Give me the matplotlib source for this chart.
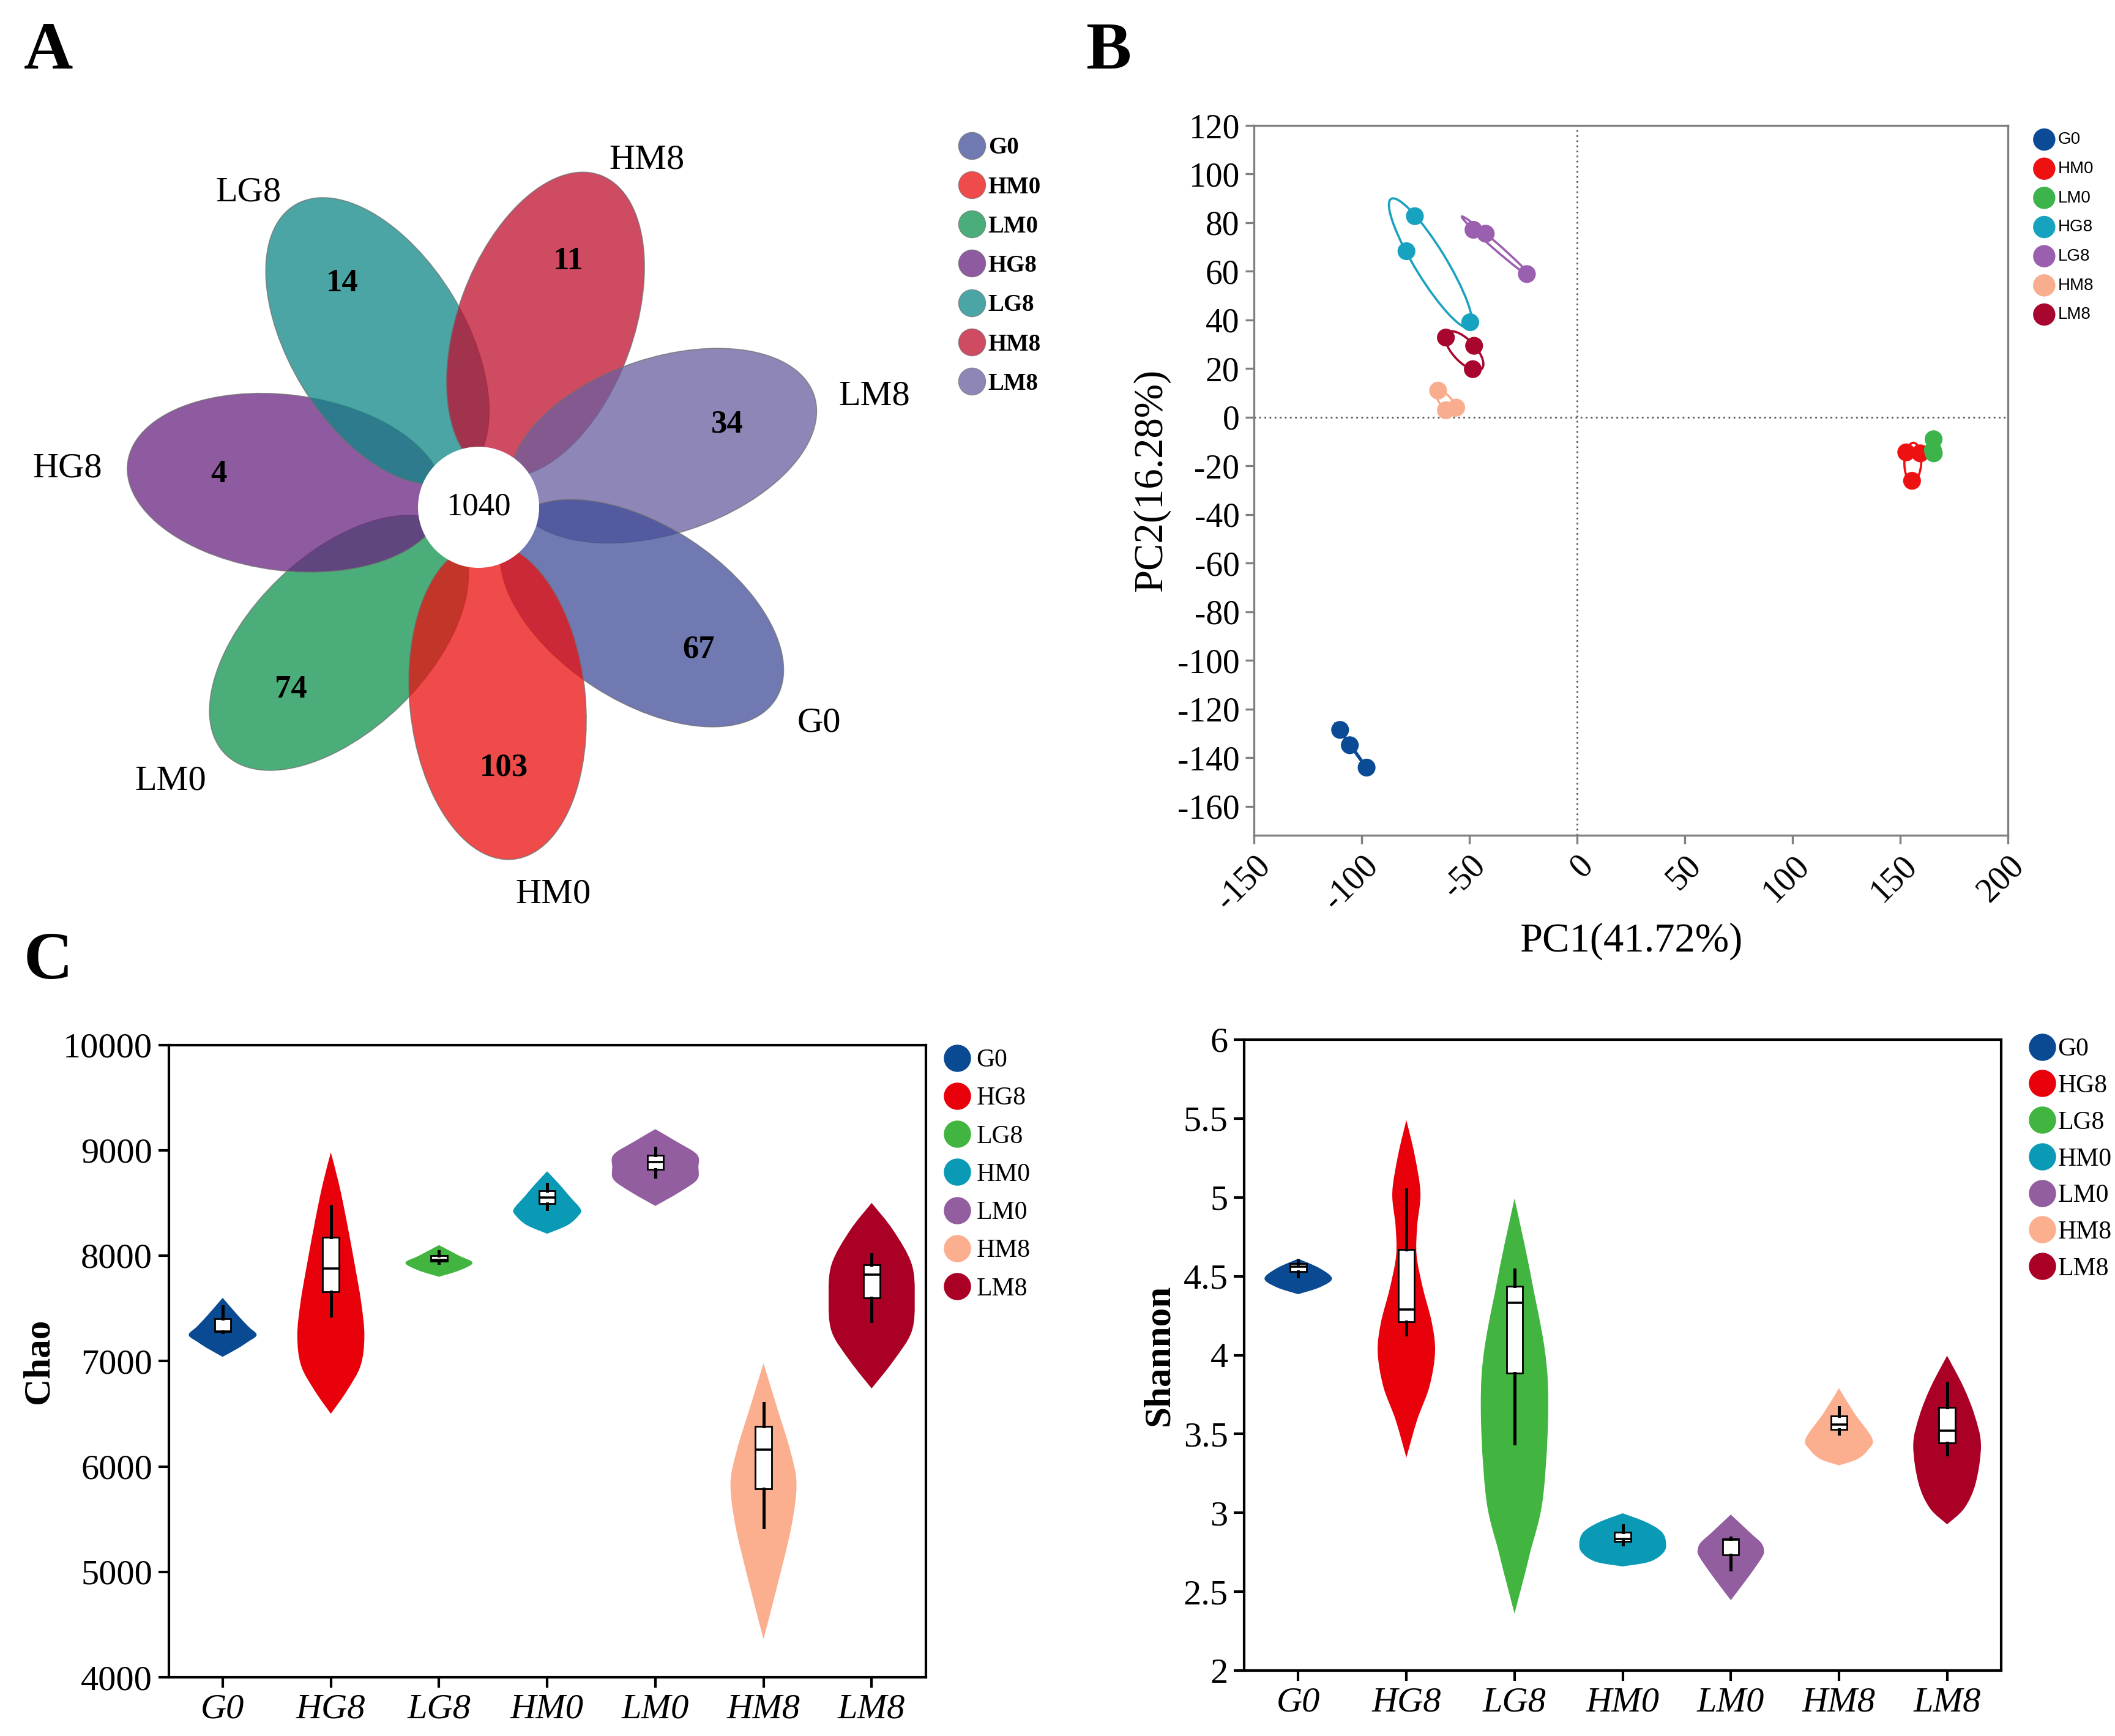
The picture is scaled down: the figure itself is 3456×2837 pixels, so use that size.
import numpy as np
import matplotlib
matplotlib.use("Agg")
import matplotlib.pyplot as plt
from matplotlib.patches import Ellipse, Circle, PathPatch
from matplotlib.path import Path
from matplotlib.lines import Line2D

plt.rcParams["font.family"] = "Liberation Serif"
plt.rcParams["axes.unicode_minus"] = False

# ---------------- data ----------------
# A: flower plot, petals counter-clockwise starting from the bottom petal
flower_groups = ["HM0", "G0", "LM8", "HM8", "LG8", "HG8", "LM0"]
flower_unique = [103, 67, 34, 11, 14, 4, 74]
flower_core = 1040
flower_colors = ["#ea0e0e", "#404c97", "#6a5ea0", "#bf0e2e", "#0e8787", "#682380", "#0e934e"]
flower_legend = ["G0", "HM0", "LM0", "HG8", "LG8", "HM8", "LM8"]

# B: PCA scores (3 samples per group)
pca_groups = ["G0", "HM0", "LM0", "HG8", "LG8", "HM8", "LM8"]
pca_colors = ["#0b4a95", "#ee1111", "#3cb44b", "#17a2bf", "#9b5fb0", "#f9ad8f", "#a8062e"]
pca_pc1 = [[-110.0, -105.5, -97.7],
           [152.8, 159.3, 155.5],
           [165.5, 165.6, 165.2],
           [-75.3, -79.2, -49.6],
           [-48.1, -42.4, -23.3],
           [-64.5, -60.9, -56.1],
           [-60.9, -47.8, -48.4]]
pca_pc2 = [[-128.5, -134.8, -144.0],
           [-14.4, -14.8, -26.1],
           [-9.0, -14.8, -13.5],
           [82.7, 68.3, 39.1],
           [77.1, 75.5, 58.9],
           [11.0, 2.9, 4.0],
           [32.8, 29.4, 19.8]]

# C: alpha diversity
alpha_groups = ["G0", "HG8", "LG8", "HM0", "LM0", "HM8", "LM8"]
alpha_colors = ["#0a4a92", "#e8000b", "#42b540", "#0a9ab5", "#925e9f", "#fcaf8f", "#ab0026"]

chao_samples = [[7275, 7280, 7520],
                [7430, 7880, 8470],
                [7930, 7960, 8040],
                [8440, 8550, 8680],
                [8750, 8890, 9020],
                [5420, 6160, 6600],
                [7380, 7820, 8010]]
# violin outline knots: value and half width (category units)
chao_violin_y = [[7040, 7120, 7180, 7248, 7330, 7440, 7600],
                 [6500, 6720, 6960, 7240, 7560, 7920, 8360, 8680, 8980],
                 [7800, 7860, 7932, 8000, 8100],
                 [8208, 8290, 8380, 8440, 8560, 8680, 8800],
                 [8472, 8600, 8720, 8840, 8960, 9080, 9200],
                 [4360, 4960, 5440, 5840, 6160, 6560, 6980],
                 [6740, 7000, 7280, 7600, 7920, 8240, 8500]]
chao_violin_w = [[0, 0.14, 0.23, 0.314, 0.235, 0.135, 0],
                 [0, 0.15, 0.276, 0.31, 0.28, 0.22, 0.14, 0.075, 0],
                 [0, 0.19, 0.31, 0.185, 0],
                 [0, 0.19, 0.29, 0.31, 0.21, 0.11, 0],
                 [0, 0.22, 0.385, 0.398, 0.385, 0.2, 0],
                 [0, 0.15, 0.26, 0.305, 0.245, 0.125, 0],
                 [0, 0.2, 0.37, 0.398, 0.37, 0.2, 0]]

shannon_samples = [[4.50, 4.56, 4.60],
                   [4.13, 4.29, 5.05],
                   [3.44, 4.33, 4.54],
                   [2.80, 2.835, 2.92],
                   [2.64, 2.83, 2.84],
                   [3.50, 3.56, 3.67],
                   [3.37, 3.52, 3.82]]
shannon_violin_y = [[4.386, 4.43, 4.485, 4.55, 4.611],
                    [3.35, 3.59, 3.80, 4.017, 4.204, 4.418, 4.63, 4.82, 5.03, 5.27, 5.49],
                    [2.361, 2.735, 3.136, 3.857, 4.472, 4.993],
                    [2.66, 2.69, 2.75, 2.815, 2.88, 2.94, 2.997],
                    [2.446, 2.60, 2.72, 2.762, 2.81, 2.87, 2.989],
                    [3.301, 3.34, 3.40, 3.47, 3.63, 3.79],
                    [2.927, 3.03, 3.19, 3.43, 3.617, 3.80, 3.996]]
shannon_violin_w = [[0, 0.2, 0.312, 0.2, 0],
                    [0, 0.1, 0.213, 0.265, 0.236, 0.155, 0.095, 0.10, 0.13, 0.076, 0],
                    [0, 0.14, 0.27, 0.306, 0.16, 0],
                    [0, 0.25, 0.38, 0.40, 0.36, 0.22, 0],
                    [0, 0.17, 0.29, 0.307, 0.28, 0.185, 0],
                    [0, 0.17, 0.27, 0.308, 0.145, 0],
                    [0, 0.16, 0.265, 0.313, 0.255, 0.15, 0]]

W, H = 3456, 2837
fig = plt.figure(figsize=(W / 200, H / 200), dpi=200)


def frac_box(x0, y0, x1, y1):
    # pixel box (top-left origin) -> figure fraction rect
    return [x0 / W, 1 - y1 / H, (x1 - x0) / W, (y1 - y0) / H]


# ---------------- A: flower ----------------
ax_a = fig.add_axes(frac_box(0, 0, 1750, 1500))
ax_a.set_xlim(0, 1750)
ax_a.set_ylim(1500, 0)
ax_a.axis("off")

cx, cy = 782, 829
start, step = 275.6, 360 / 7
dist, semi_a, semi_b = 318, 260, 143.5
for k in reversed(range(len(flower_groups))):
    phi = start + k * step
    ux, uy = np.cos(np.radians(phi)), -np.sin(np.radians(phi))
    ax_a.add_patch(Ellipse((cx + dist * ux, cy + dist * uy), 2 * semi_a, 2 * semi_b,
                           angle=-phi, facecolor=flower_colors[k], alpha=0.75,
                           edgecolor="#707070", lw=0.6, zorder=10 - k))
    ax_a.text(cx + 428 * ux, cy + 428 * uy, str(flower_unique[k]), ha="center",
              va="center", fontsize=19, fontweight="bold", zorder=30)
    ax_a.text(cx + 620 * ux, cy + 620 * uy + 15, flower_groups[k],
              ha="left" if ux > 0 else "right", va="center", fontsize=21, zorder=30)
ax_a.add_patch(Circle((cx, cy), 99, facecolor="white", edgecolor="none", zorder=25))
ax_a.text(cx, cy, str(flower_core), ha="center", va="center", fontsize=19, zorder=30)

col_of = dict(zip(flower_groups, flower_colors))
handles_a = [Line2D([], [], ls="none", marker="o", markersize=16, alpha=0.75,
                    markerfacecolor=col_of[g], markeredgecolor="#707070",
                    markeredgewidth=0.4, label=g) for g in flower_legend]
fig.legend(handles=handles_a, loc="upper left", bbox_to_anchor=(0.4481, 0.9281),
           frameon=False, borderpad=0, handlelength=1.0, handletextpad=0.2,
           labelspacing=0.7, prop={"size": 14, "weight": "bold"})


# ---------------- B: PCA ----------------
def conf_ellipse(x, y, n_std=1.2, **kw):
    cov = np.cov(x, y)
    vals, vecs = np.linalg.eigh(cov)
    order = vals.argsort()[::-1]
    vals, vecs = vals[order], vecs[:, order]
    angle = np.degrees(np.arctan2(vecs[1, 0], vecs[0, 0]))
    w, h = 2 * n_std * np.sqrt(np.maximum(vals, 1e-6))
    return Ellipse((np.mean(x), np.mean(y)), w, h, angle=angle, **kw)


ax_b = fig.add_axes(frac_box(2049, 205, 3281, 1364.5))
for g, xs, ys, col in zip(pca_groups, pca_pc1, pca_pc2, pca_colors):
    ax_b.add_patch(conf_ellipse(xs, ys, facecolor="white", edgecolor=col, lw=1.3, zorder=2))
    ax_b.scatter(xs, ys, s=110, color=col, edgecolors="none", zorder=3, label=g)
ax_b.axvline(0, color="#555555", ls=(0, (1, 2)), lw=1.0, zorder=1)
ax_b.axhline(0, color="#555555", ls=(0, (1, 2)), lw=1.0, zorder=1)
ax_b.set_xlim(-150, 200)
ax_b.set_ylim(-171.7, 120)
ax_b.set_xticks(range(-150, 201, 50))
ax_b.set_yticks(range(-160, 121, 20))
for s in ax_b.spines.values():
    s.set_color("#7f7f7f")
    s.set_linewidth(1.2)
ax_b.tick_params(direction="out", length=5, width=1.2, color="#7f7f7f", labelsize=20)
plt.setp(ax_b.get_xticklabels(), rotation=45, ha="right", rotation_mode="anchor")
ax_b.set_xlabel("PC1(41.72%)", fontsize=24)
ax_b.set_ylabel("PC2(16.28%)", fontsize=24)
ax_b.legend(loc="upper left", bbox_to_anchor=(0.9585, 0.9290), bbox_transform=fig.transFigure,
            frameon=False, borderpad=0, handlelength=1.0, handletextpad=0.3,
            labelspacing=0.78, markerscale=1.25, scatterpoints=1,
            prop={"family": "Liberation Sans", "size": 10})


# ---------------- C: violins ----------------
def side_curve(pts):
    p = np.vstack([pts[0], pts, pts[-1]])
    verts = []
    for i in range(len(pts) - 1):
        p0, p1, p2, p3 = p[i], p[i + 1], p[i + 2], p[i + 3]
        verts += [p1 + (p2 - p0) / 6, p2 - (p3 - p1) / 6, p2]
    return verts


def violin_path(pos, ys, ws):
    ys, ws = np.asarray(ys, float), np.asarray(ws, float)
    right = np.column_stack([pos + ws, ys])
    left = np.column_stack([pos - ws, ys])[::-1]
    verts = [right[0]] + side_curve(right) + side_curve(left) + [right[0]]
    codes = [Path.MOVETO] + [Path.CURVE4] * (len(verts) - 2) + [Path.CLOSEPOLY]
    return Path(verts, codes)


def alpha_panel(ax, samples, vys, vws, ylim, yticks, yticklabels, ylabel):
    for i, (ys, ws, col) in enumerate(zip(vys, vws, alpha_colors)):
        ax.add_patch(PathPatch(violin_path(i, ys, ws), facecolor=col, edgecolor="none", zorder=1))
    ax.boxplot(samples, positions=range(len(samples)), widths=0.15, whis=(0, 100),
               patch_artist=True, showcaps=False, showfliers=False,
               boxprops=dict(facecolor="white", edgecolor="black", lw=1.0),
               medianprops=dict(color="black", lw=1.3),
               whiskerprops=dict(color="black", lw=1.8), zorder=3)
    ax.set_xlim(-0.5, 6.5)
    ax.set_ylim(*ylim)
    ax.set_yticks(yticks)
    ax.set_yticklabels(yticklabels)
    ax.set_xticks(range(len(alpha_groups)))
    ax.set_xticklabels(alpha_groups, fontstyle="italic", fontsize=21)
    for s in ax.spines.values():
        s.set_linewidth(1.5)
    ax.tick_params(direction="out", length=6, width=1.5, top=False, right=False)
    ax.tick_params(axis="y", labelsize=21)
    ax.set_ylabel(ylabel, fontsize=22, fontweight="bold")


ax_c1 = fig.add_axes(frac_box(275.5, 1707.5, 1512.7, 2741))
alpha_panel(ax_c1, chao_samples, chao_violin_y, chao_violin_w, (4000, 10000),
            range(4000, 10001, 1000), [str(v) for v in range(4000, 10001, 1000)], "Chao")

ax_c2 = fig.add_axes(frac_box(2033, 1699, 3270, 2730))
sh_ticks = [2, 2.5, 3, 3.5, 4, 4.5, 5, 5.5, 6]
alpha_panel(ax_c2, shannon_samples, shannon_violin_y, shannon_violin_w, (2, 6),
            sh_ticks, ["%g" % v for v in sh_ticks], "Shannon")

for ax, anchor, lsp, pad in [(ax_c1, (0.4406, 0.4033), 0.57, 0.25),
                             (ax_c2, (0.9536, 0.4096), 0.51, 0.1)]:
    hs = [Line2D([], [], ls="none", marker="o", markersize=15, markerfacecolor=c,
                 markeredgecolor=c, label=g) for g, c in zip(alpha_groups, alpha_colors)]
    ax.legend(handles=hs, loc="upper left", bbox_to_anchor=anchor, bbox_transform=fig.transFigure,
              frameon=False, borderpad=0, handlelength=1.0, handletextpad=pad,
              labelspacing=lsp, prop={"size": 15})

# panel letters
for letter, x, y in [("A", 39, 35), ("B", 1774, 35), ("C", 39, 1522)]:
    fig.text(x / W, 1 - y / H, letter, ha="left", va="top", fontsize=40, fontweight="bold")

fig.savefig("out.png", dpi=200)
